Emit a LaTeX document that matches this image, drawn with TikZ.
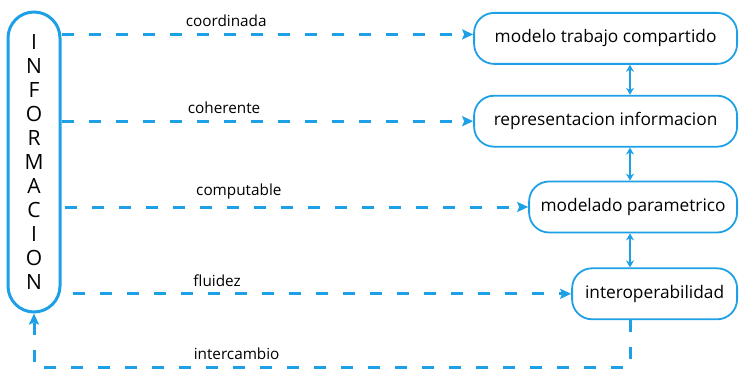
\documentclass[tikz,border=0pt]{standalone}
\usepackage{fontspec}
\setmainfont{Open Sans}
\usepackage{xcolor}
\usetikzlibrary{positioning,arrows.meta}
\definecolor{infoblue}{RGB}{30,160,230}
\tikzset{
   infobox/.style={draw=infoblue, line width=1.8pt, rounded corners=20pt,
      minimum height=51pt, inner sep=0pt, font=\fontsize{17.3}{19}\selectfont},
   flow/.style={draw=infoblue, line width=3pt, dash pattern=on 12pt off 15pt,
      -{Stealth[length=11pt, width=10pt, inset=2pt]}},
   link/.style={draw=infoblue, line width=1.5pt,
      {Stealth[length=7pt, width=8pt]}-{Stealth[length=7pt, width=8pt]}},
   flowlabel/.style={above=4pt, inner sep=2pt, font=\fontsize{15.3}{17}\selectfont}
}
\begin{document}
\begin{tikzpicture}[x=1pt, y=-1pt]
   \useasboundingbox (0,0) rectangle (740,369);
   \node[draw=infoblue, line width=3pt, rounded corners=26pt, minimum width=52pt,
      minimum height=300pt, align=center, font=\fontsize{21}{24}\selectfont]
      (info) at (34,162) {I\\N\\F\\O\\R\\M\\A\\C\\I\\O\\N};
   \node[infobox, minimum width=263pt, anchor=north east] (b1) at (738,12) {modelo trabajo compartido};
   \node[infobox, minimum width=263pt, below=30pt of b1.south east, anchor=north east] (b2) {representacion informacion};
   \node[infobox, minimum width=208pt, below=33pt of b2.south east, anchor=north east] (b3) {modelado parametrico};
   \node[infobox, minimum width=165pt, below=34pt of b3.south east, anchor=north east] (b4) {interoperabilidad};
   \coordinate (axis) at (630,0);
   \coordinate (low) at (0,367);
   \draw[link] (b1.south -| axis) -- (b2.north -| axis);
   \draw[link] (b2.south -| axis) -- (b3.north -| axis);
   \draw[link] (b3.south -| axis) -- (b4.north -| axis);
   \draw[flow] ([yshift=4pt]b1.west -| info.east) -- node[flowlabel, pos=0.40] {coordinada} ([yshift=4pt]b1.west);
   \draw[flow] (b2.west -| info.east) -- node[flowlabel, pos=0.395] {coherente} (b2.west);
   \draw[flow] ([xshift=3pt]b3.west -| info.east) -- node[flowlabel, pos=0.376] {computable} (b3.west);
   \draw[flow] ([xshift=11pt]b4.west -| info.east) -- node[flowlabel, pos=0.29] {fluidez} (b4.west);
   \draw[flow] (b4.south -| axis) -- (axis |- low) -- node[flowlabel, pos=0.66] {intercambio} (info.south |- low) -- (info.south);
\end{tikzpicture}
\end{document}
